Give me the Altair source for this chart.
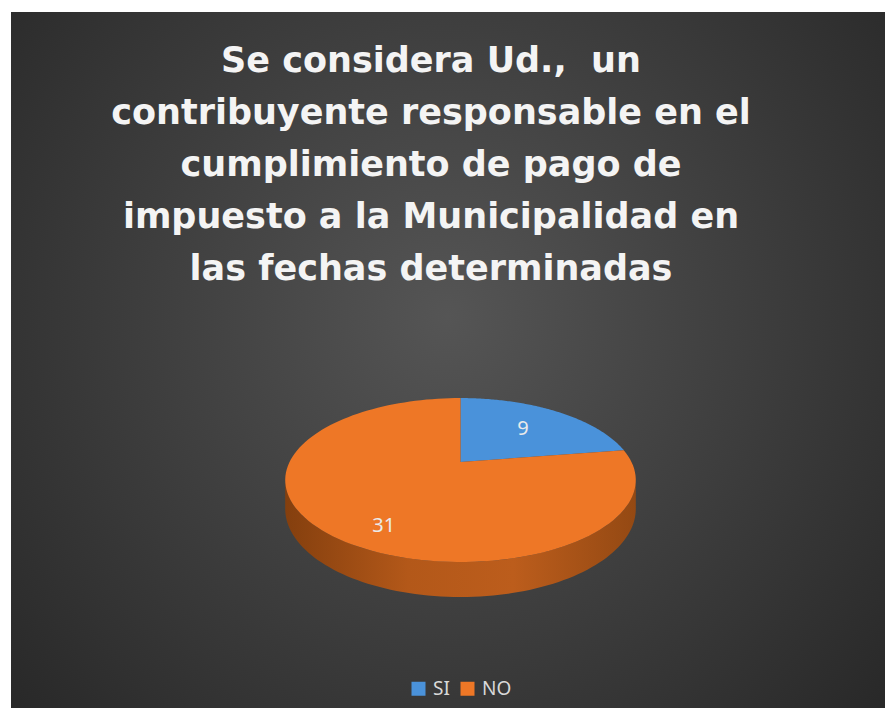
import altair as alt
import pandas as pd

# ---- data ----
categories = ["SI", "NO"]
values = [9, 31]
title_lines = [
    "Se considera Ud., \u00a0un",
    "contribuyente responsable en el",
    "cumplimiento de pago de",
    "impuesto a la Municipalidad en",
    "las fechas determinadas",
]
colors = ["#4A92DA", "#EE7726"]

W, H = 877, 700
K = 0.22      # perspective factor
DEPTH = 0.35  # pie thickness (y units)
N = 90

df = pd.DataFrame({"cat": categories, "val": values})

xscale = alt.Scale(domain=[-1, 1], range=[281.5, 623.5])
yscale = alt.Scale(domain=[-1, 1], range=[532, 376])

base = (
    alt.Chart(df)
    .transform_joinaggregate(total="sum(val)")
    .transform_window(cum="sum(val)", frame=[None, 0])
    .transform_calculate(
        a0="2*PI*(datum.cum - datum.val)/datum.total",
        a1="2*PI*datum.cum/datum.total",
    )
)

# background
bg = alt.Chart(pd.DataFrame({"z": [0]})).mark_rect(
    fill={
        "gradient": "radial",
        "x1": 0.5, "y1": 0.45, "r1": 0,
        "x2": 0.5, "y2": 0.45, "r2": 0.75,
        "stops": [
            {"offset": 0, "color": "#555555"},
            {"offset": 1, "color": "#232323"},
        ],
    }
).encode(x=alt.value(3), x2=alt.value(W), y=alt.value(4), y2=alt.value(H))

# side wall (front, visible part) as a closed polygon
side = (
    base.transform_calculate(
        lo=f"max(datum.a0, acos(-{K}))",
        hi=f"min(datum.a1, 2*PI - acos(-{K}))",
    )
    .transform_filter("datum.lo < datum.hi")
    .transform_calculate(step=f"sequence(0, {2 * N + 2})")
    .transform_flatten(["step"])
    .transform_calculate(
        t=f"datum.step <= {N} ? datum.lo + (datum.hi - datum.lo)*datum.step/{N}"
          f" : datum.lo + (datum.hi - datum.lo)*({2 * N + 1} - datum.step)/{N}",
        h=f"datum.step <= {N} ? 0 : {DEPTH}",
    )
    .transform_calculate(den=f"1 + {K}*cos(datum.t)")
    .transform_calculate(
        px="sin(datum.t)/datum.den",
        py="(cos(datum.t) - datum.h)/datum.den",
    )
    .mark_line(
        filled=True,
        strokeWidth=0,
        fill={
            "gradient": "linear",
            "x1": 0, "y1": 0, "x2": 1, "y2": 0,
            "stops": [
                {"offset": 0, "color": "#843F0E"},
                {"offset": 0.35, "color": "#B35819"},
                {"offset": 0.65, "color": "#BC5D1C"},
                {"offset": 1, "color": "#944913"},
            ],
        },
    )
    .encode(
        x=alt.X("px:Q", scale=xscale, axis=None),
        y=alt.Y("py:Q", scale=yscale, axis=None),
        detail="cat:N",
        order="step:Q",
    )
)

# top face slices
top = (
    base.transform_calculate(step="sequence(-1, 121)")
    .transform_flatten(["step"])
    .transform_calculate(
        t="datum.a0 + (datum.a1 - datum.a0)*max(datum.step, 0)/120",
        r="datum.step < 0 ? 0 : 1",
    )
    .transform_calculate(den=f"1 + {K}*datum.r*cos(datum.t)")
    .transform_calculate(
        px="datum.r*sin(datum.t)/datum.den",
        py="datum.r*cos(datum.t)/datum.den",
    )
    .mark_line(filled=True, strokeWidth=0)
    .encode(
        x=alt.X("px:Q", scale=xscale, axis=None),
        y=alt.Y("py:Q", scale=yscale, axis=None),
        color=alt.Color(
            "cat:N",
            scale=alt.Scale(domain=categories, range=colors),
            legend=alt.Legend(
                orient="none",
                legendX=401,
                legendY=671,
                direction="horizontal",
                title=None,
                symbolType="square",
                symbolSize=196,
                symbolStrokeWidth=0,
                labelColor="#D9D9D9",
                labelFontSize=19,
                labelFont="Noto Sans",
                columnPadding=8,
                labelOffset=5,
            ),
        ),
        order="step:Q",
    )
)

# value labels
labels = (
    base.transform_calculate(tm="(datum.a0 + datum.a1)/2", r="0.62")
    .transform_calculate(den=f"1 + {K}*datum.r*cos(datum.tm)")
    .transform_calculate(
        px="datum.r*sin(datum.tm)/datum.den",
        py=f"(datum.r*cos(datum.tm) - {DEPTH}*max(0, -cos(datum.tm)))/datum.den",
    )
    .mark_text(fontSize=20, color="#EAEAEA", font="Noto Sans")
    .encode(
        x=alt.X("px:Q", scale=xscale, axis=None),
        y=alt.Y("py:Q", scale=yscale, axis=None),
        text="val:Q",
    )
)

# title, one text mark per line
tfont = dict(font="DejaVu Sans", fontWeight="bold", fontSize=35,
             align="center", baseline="alphabetic")
title_layers = []
for i, line in enumerate(title_lines):
    ldf = pd.DataFrame({"t": [line]})
    title_layers.append(
        alt.Chart(ldf).mark_text(color="#F4F4F4", **tfont)
        .encode(x=alt.value(423), y=alt.value(64 + 52 * i), text="t:N")
    )

chart = (
    alt.layer(bg, side, top, labels, *title_layers)
    .properties(width=W, height=H, background="white", padding=0,
                autosize=alt.AutoSizeParams(type="none"))
    .configure_view(stroke=None)
)

chart.save("out.html", embed_options={"renderer": "svg", "actions": False})
